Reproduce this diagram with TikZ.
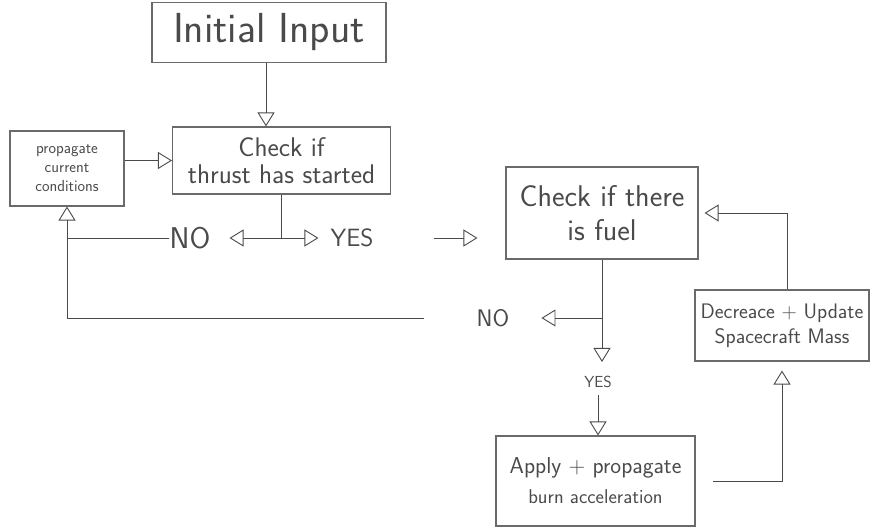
\documentclass[tikz,border=0pt]{standalone}
\usetikzlibrary{arrows.meta,calc}
\definecolor{ink}{HTML}{4A4A4A}
\definecolor{boxline}{HTML}{6A6A6A}
\tikzset{
  box/.style={draw=boxline, line width=1.1pt, inner sep=0pt, align=center, text=ink, font=\sffamily},
  lbl/.style={inner sep=0pt, text=ink, font=\sffamily},
  conn/.style={draw=ink, line width=0.9pt},
  arr/.style={conn, -{Triangle[open,length=14pt,width=17pt]}},
}
\begin{document}
\begin{tikzpicture}[x=1pt,y=-1pt]
\useasboundingbox (0,0) rectangle (870,529);
% boxes
\node[box, minimum width=234pt, minimum height=60pt, font=\sffamily\fontsize{42}{46}\selectfont] (init) at (269,32.5) {Initial Input};
\node[box, minimum width=218pt, minimum height=67pt, font=\sffamily\fontsize{27}{27}\selectfont] (thrust) at (281.5,160.5) {Check if\\thrust has started};
\node[box, minimum width=114pt, minimum height=75pt, font=\sffamily\fontsize{16}{19}\selectfont] (prop) at (67,168.5) {propagate\\current\\conditions};
\node[box, minimum width=192pt, minimum height=92pt, font=\sffamily\fontsize{30}{34}\selectfont] (fuel) at (602,213) {Check if there\\is fuel};
\node[box, minimum width=199pt, minimum height=90pt, font=\sffamily\fontsize{23}{26}\selectfont] (apply) at (595.5,481) {Apply + propagate\\[4pt]{\fontsize{20}{22}\selectfont burn acceleration}};
\node[box, minimum width=174pt, minimum height=71pt, font=\sffamily\fontsize{21}{25}\selectfont] (dec) at (782,325.5) {Decreace + Update\\Spacecraft Mass};
% labels
\node[lbl, font=\sffamily\fontsize{30}{34}\selectfont] (no1) at (190,238) {NO};
\node[lbl, font=\sffamily\fontsize{25}{28}\selectfont] (yes1) at (352,238) {YES};
\node[lbl, font=\sffamily\fontsize{24}{28}\selectfont] (no2) at (493,318) {NO};
\node[lbl, font=\sffamily\fontsize{16}{18}\selectfont] (yes2) at (598,382) {YES};
% junctions
\coordinate (j1) at (thrust.south |- no1);
\coordinate (j2) at (fuel.south |- no2);
% connectors
\draw[arr] ([xshift=-3pt]init.south) -- ([xshift=-3pt]init.south |- thrust.north);
\draw[arr] (thrust.west -| prop.east) -- (thrust.west);
\draw[conn] (thrust.south) -- (j1);
\draw[arr, shorten >=19pt] (j1) -- (no1.east);
\draw[arr, shorten >=12pt] (j1) -- (yes1.west);
\draw[arr] (no1.west) -- (no1 -| prop.south) -- (prop.south);
\draw[conn, shorten <=53pt] (no2.west) -- (no2.west -| prop.south) -- (no1 -| prop.south);
\draw[arr, shorten <=60pt, shorten >=28pt] (yes1.east) -- (yes1.east -| fuel.west);
\draw[arr, shorten >=14pt] (fuel.south) -- (fuel.south |- yes2.north);
\draw[arr, shorten >=32pt] (j2) -- (no2.east);
\draw[arr, shorten <=7pt] (yes2.south) -- (yes2.south |- apply.north);
\draw[arr, shorten <=17pt, shorten >=9pt] (apply.east) -- (apply.east -| dec.south) -- (dec.south);
\draw[arr, shorten >=6pt] ([xshift=5pt]dec.north) -- ([xshift=5pt]dec.north |- fuel.east) -- (fuel.east);
\end{tikzpicture}
\end{document}
